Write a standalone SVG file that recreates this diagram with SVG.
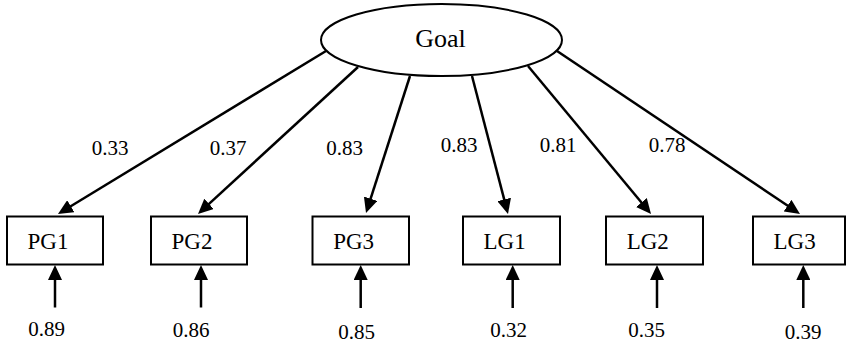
<svg xmlns="http://www.w3.org/2000/svg" width="846" height="346" viewBox="0 0 846 346">
<defs>
<marker id="ah" markerUnits="userSpaceOnUse" markerWidth="16" markerHeight="14" refX="3" refY="7" orient="auto">
<path d="M0,0 L15,7 L0,14 z" fill="#000"/>
</marker>
<style>
.c{stroke:#000;stroke-width:2.5;fill:none;marker-end:url(#ah)}
.n{fill:#fff;stroke:#000;stroke-width:2}
text{font-family:"Liberation Serif",Tinos,"Times New Roman",Times,"DejaVu Serif",serif;fill:#000}
.bl{font-size:23px}
.lb{font-size:21px;text-anchor:middle}
</style>
</defs>
<rect width="846" height="346" fill="#fff"/>
<g id="connectors">
<line class="c" x1="326" y1="51" x2="68.25" y2="207.76"/>
<line class="c" x1="358" y1="67" x2="206.84" y2="205.88"/>
<line class="c" x1="410" y1="76" x2="369.67" y2="201.57"/>
<line class="c" x1="472" y1="76" x2="504.97" y2="202.39"/>
<line class="c" x1="528" y1="66" x2="643.33" y2="204.77"/>
<line class="c" x1="557" y1="51" x2="790.03" y2="207.31"/>
<line class="c" x1="55" y1="307.5" x2="55" y2="277"/>
<line class="c" x1="201" y1="307.5" x2="201" y2="277"/>
<line class="c" x1="360.7" y1="308" x2="360.7" y2="277"/>
<line class="c" x1="512.7" y1="308" x2="512.7" y2="277"/>
<line class="c" x1="657" y1="308" x2="657" y2="277"/>
<line class="c" x1="803.3" y1="308" x2="803.3" y2="277"/>
</g>
<g id="edge-labels">
<text class="lb" x="110" y="155">0.33</text>
<text class="lb" x="228" y="155">0.37</text>
<text class="lb" x="344.7" y="155">0.83</text>
<text class="lb" x="459" y="152">0.83</text>
<text class="lb" x="558" y="152">0.81</text>
<text class="lb" x="667" y="152">0.78</text>
</g>
<g id="goal">
<ellipse class="n" cx="441.5" cy="40" rx="120.5" ry="36"/>
<text x="440.5" y="47" font-size="26" text-anchor="middle">Goal</text>
</g>
<g id="PG1">
<rect class="n" x="7" y="216.5" width="96" height="48"/>
<text class="bl" x="27.5" y="249">PG1</text>
<text class="lb" x="46.7" y="336">0.89</text>
</g>
<g id="PG2">
<rect class="n" x="151" y="216.5" width="96" height="48"/>
<text class="bl" x="171.5" y="249">PG2</text>
<text class="lb" x="191" y="337">0.86</text>
</g>
<g id="PG3">
<rect class="n" x="312.5" y="216.5" width="96.5" height="48"/>
<text class="bl" x="333.2" y="249">PG3</text>
<text class="lb" x="356.7" y="339">0.85</text>
</g>
<g id="LG1">
<rect class="n" x="463" y="216.5" width="97" height="48"/>
<text class="bl" x="483.5" y="249">LG1</text>
<text class="lb" x="508.7" y="337">0.32</text>
</g>
<g id="LG2">
<rect class="n" x="606" y="216.5" width="97" height="48"/>
<text class="bl" x="626.7" y="249">LG2</text>
<text class="lb" x="646.7" y="337">0.35</text>
</g>
<g id="LG3">
<rect class="n" x="753" y="216.5" width="92" height="48"/>
<text class="bl" x="773.5" y="249">LG3</text>
<text class="lb" x="803" y="339">0.39</text>
</g>
</svg>
